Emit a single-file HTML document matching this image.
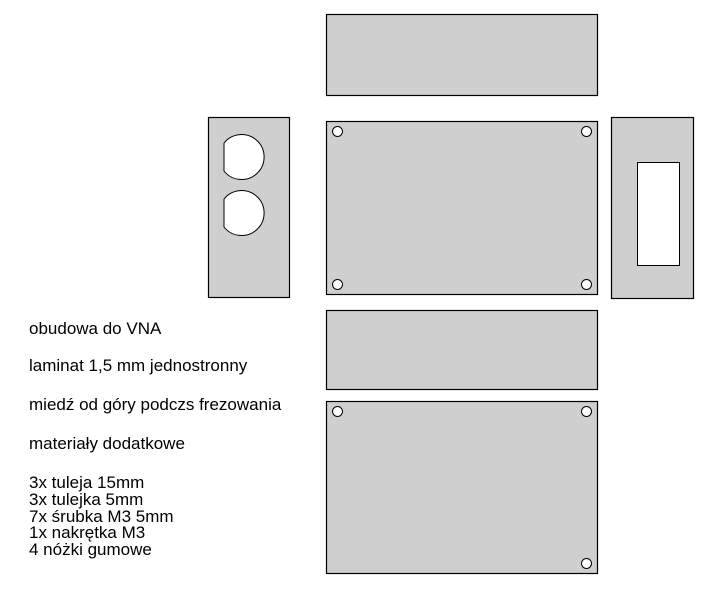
<!DOCTYPE html>
<html><head><meta charset="utf-8"><style>
html,body{margin:0;padding:0;background:#fff;width:717px;height:590px;overflow:hidden}
svg{display:block}
text{font-family:"Liberation Sans",Arial,sans-serif;font-size:17px;fill:#000}
</style></head><body>
<svg width="717" height="590" xmlns="http://www.w3.org/2000/svg">
<g fill="#cfcfcf" stroke="#000" stroke-width="1.2">
<rect x="326.5" y="14.5" width="271" height="81"/>
<rect x="208.5" y="117.5" width="81" height="180"/>
<rect x="326.5" y="121.5" width="271" height="173"/>
<rect x="611.5" y="117.5" width="82" height="181"/>
<rect x="326.5" y="310.5" width="271" height="79"/>
<rect x="326.5" y="401.5" width="271" height="172"/>
</g>
<g fill="#fff" stroke="#000" stroke-width="1">
<path d="M224 143 A22.5 22.5 0 1 1 224 171 Z"/>
<path d="M224 199 A22.5 22.5 0 1 1 224 227 Z"/>
<rect x="637.5" y="162.5" width="42" height="103"/>
<circle cx="337.5" cy="131.5" r="5"/>
<circle cx="586.5" cy="131.5" r="5"/>
<circle cx="337.5" cy="284.5" r="5"/>
<circle cx="586.5" cy="284.5" r="5"/>
<circle cx="337.5" cy="411.5" r="5"/>
<circle cx="586.5" cy="411.5" r="5"/>
<circle cx="586.5" cy="563.5" r="5"/>
</g>
<text x="29" y="334">obudowa do VNA</text>
<text x="29" y="371">laminat 1,5 mm jednostronny</text>
<text x="29" y="410">miedź od góry podczs frezowania</text>
<text x="29" y="449">materiały dodatkowe</text>
<text x="29" y="488">3x tuleja 15mm</text>
<text x="29" y="505">3x tulejka 5mm</text>
<text x="29" y="522">7x śrubka M3 5mm</text>
<text x="29" y="538">1x nakrętka M3</text>
<text x="29" y="555">4 nóżki gumowe</text>
</svg>
</body></html>
